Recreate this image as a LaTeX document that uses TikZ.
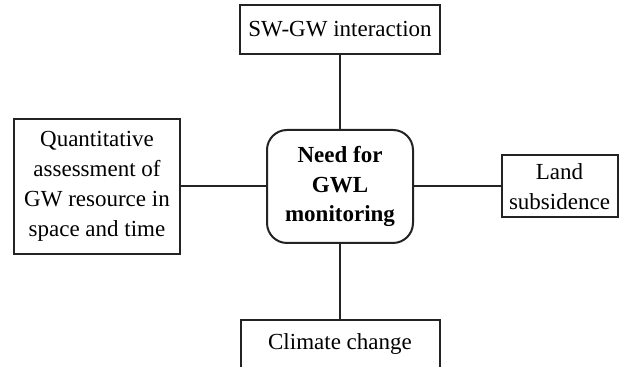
\documentclass[tikz,border=0pt]{standalone}
\usepackage{fontspec}
\setmainfont{Liberation Serif}
\usetikzlibrary{positioning}

\begin{document}
\begin{tikzpicture}[x=0.5pt,y=-0.5pt]
    \definecolor{myframe}{RGB}{35,35,35}
    \tikzstyle{format}=[rectangle,draw=myframe,line width=1pt,fill=white,align=center,inner sep=0pt,
        font=\fontsize{11.5pt}{15pt}\selectfont]  % plain boxes
    \tikzstyle{hub}=[format,rounded corners=10pt,font=\fontsize{11.5pt}{14.6pt}\selectfont\bfseries]  % middle box
    \tikzstyle{link}=[draw=myframe,line width=1pt]  % connecting lines

    % page frame
    \useasboundingbox (0,0) rectangle (621,367);
    \clip (0,0) rectangle (621,367);

    % nodes
    \node[hub,minimum width=73pt,minimum height=56.5pt](need) at (340,186.5){Need for\\GWL\\monitoring};
    \node[format,above of=need,node distance=78.5pt,minimum width=100pt,minimum height=24.5pt](swgw){SW-GW interaction};
    \node[format,left of=need,node distance=121.5pt,minimum width=83pt,minimum height=67.5pt](quant){Quantitative\\assessment of\\GW resource in\\space and time};
    \node[format,right of=need,node distance=109.75pt,minimum width=58pt,minimum height=31pt](land){Land\\subsidence};
    \node[format,below of=need,node distance=79pt,minimum width=99.5pt,minimum height=24.5pt](climate){Climate change};

    % lines
    \draw[link](swgw)--(need);
    \draw[link](quant)--(need);
    \draw[link](land)--(need);
    \draw[link](climate)--(need);
\end{tikzpicture}
\end{document}
